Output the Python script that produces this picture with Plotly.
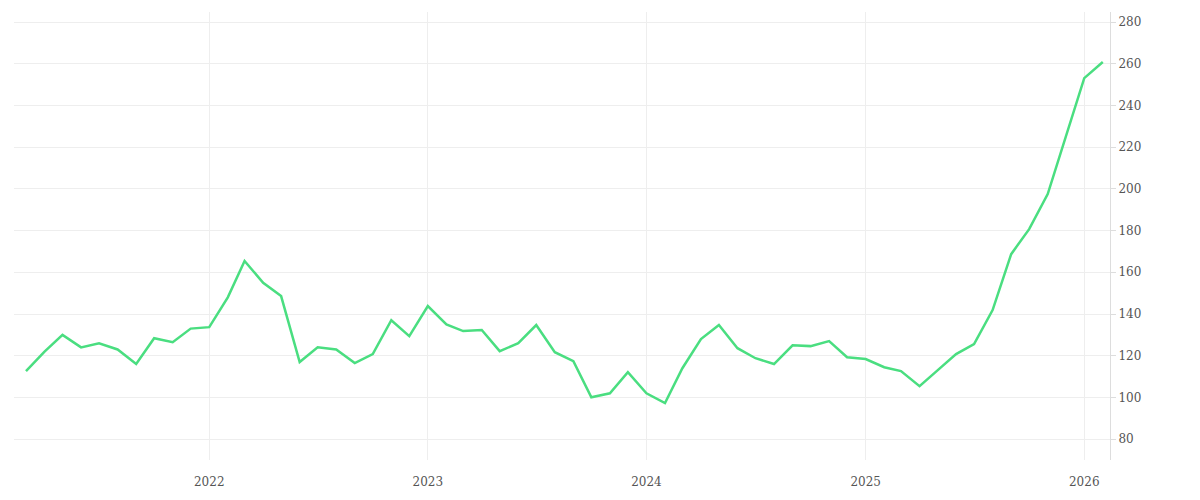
import plotly.graph_objects as go
import pandas as pd

dates = pd.date_range("2021-03-01", periods=60, freq="MS")
values = [
    112.6, 122, 130, 124, 126, 123, 116, 128.4, 126.5, 133,
    133.7, 148, 165.4, 155, 148.6, 117, 124, 123, 116.5, 120.8,
    137, 129.4, 143.8, 135, 131.8, 132.3, 122.2, 126, 134.7, 121.7,
    117.4, 100.1, 102, 112.1, 102, 97.3, 114, 128, 134.7, 123.6,
    118.8, 116, 125, 124.6, 127, 119.3, 118.4, 114.5, 112.6, 105.4,
    113, 120.8, 125.6, 141.9, 168.7, 180.7, 197.5, 224.4, 253.1, 260.8,
]
year_ticks = ["2022-01-01", "2023-01-01", "2024-01-01", "2025-01-01", "2026-01-01"]
year_labels = ["2022", "2023", "2024", "2025", "2026"]
y_ticks = [80, 100, 120, 140, 160, 180, 200, 220, 240, 260, 280]

fig = go.Figure(go.Scatter(
    x=dates, y=values, mode="lines",
    line=dict(color="#4ade80", width=2.5),
    hoverinfo="x+y",
))

fig.update_layout(
    width=1200, height=500,
    margin=dict(l=6, r=98, t=4, b=48),
    plot_bgcolor="white", paper_bgcolor="white",
    showlegend=False,
    font=dict(family="DejaVu Serif", size=12, color="#555"),
    xaxis=dict(
        range=["2021-02-09", "2026-02-13"],
        tickvals=year_ticks, ticktext=year_labels,
        showgrid=True, gridcolor="#eeeeee", zeroline=False,
        showline=False, ticks="", ticklabelstandoff=13,
    ),
    yaxis=dict(
        side="right", range=[70, 284.8], tickvals=y_ticks,
        showgrid=True, gridcolor="#eeeeee", zeroline=False,
        showline=True, linecolor="#dddddd", ticks="outside",
        tickcolor="#dddddd", ticklen=5,
    ),
)

fig.write_html("out.html")
